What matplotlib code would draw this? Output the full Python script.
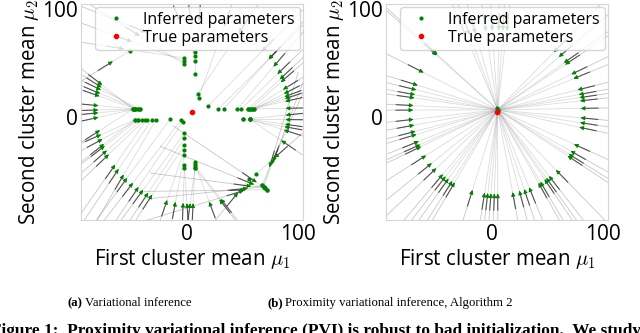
import numpy as np
import matplotlib
matplotlib.use('Agg')
from matplotlib import pyplot as plt

plt.rcParams['font.family'] = ['Open Sans', 'DejaVu Sans']
plt.rcParams['mathtext.fontset'] = 'cm'

true_mu1, true_mu2 = 5.0, 5.0

# (a) variational inference: angle of each run's arrow around the truth (deg)
# and the point where the run ended
angle_a = [147.6, 136.9, 130.3, 124.2, 120.0, 97.5, 91.0, 85.7, 70.0, 60.0,
           41.8, 35.5, 35.4, 30.1, 24.9, 21.3, 19.4, 14.5, 11.8, 9.8,
           8.5, 6.8, 2.3, -1.8, -4.7, -7.7, -9.3, -11.5, -18.4, -28.8,
           -31.4, -33.4, -35.3, -48.4, -50.7, -52.9, -55.3, -57.2, -58.4, -61.9,
           -71.8, -72.7, -79.3, -89.4, -91.2, -93.0, -95.4, -100.1, -105.4, -115.2,
           -117.9, -121.5, -124.7, -129.0, -133.6, -136.4, -141.1, -144.5, -152.1, -154.8,
           -158.0, -159.2, -162.5, -165.5, -168.1, -176.5, -179.4, 178.8, 176.0, 169.9,
           168.1, 165.8, 164.1, 162.5]
end_x_a = [-50.9, -2.2, -2.2, -2.2, 7.7, 7.7, 7.7, 7.7, 11.0, 10.1,
           19.4, 28.7, 33.6, 45.8, 49.4, 55.5, 57.5, 59.0, 61.0, 59.0,
           61.0, 57.5, 55.5, 51.2, 57.5, 57.5, 51.2, 57.5, 57.5, 62.7,
           69.5, 68.0, 69.5, 71.0, 72.5, 71.0, 69.5, 72.5, 68.0, 56.6,
           7.7, 7.7, 7.7, 7.7, 7.7, -1.9, -1.9, -1.9, -1.9, -1.9,
           -1.9, -1.9, -3.4, -4.9, -14.8, -27.4, -31.3, -35.8, -37.3, -40.3,
           -43.4, -46.4, -43.4, -46.4, -48.0, -46.0, -44.0, -42.0, -48.0, -46.0,
           -44.0, -42.0, -46.0, -48.0]
end_y_a = [61.8, 55.0, 52.2, 49.4, 60.6, 56.9, 52.2, 40.2, 18.0, 21.7,
           10.6, 7.8, 7.8, 7.8, 7.8, 7.8, 7.8, 7.8, 7.8, 7.8,
           7.8, 7.8, 7.8, -1.8, -1.8, -1.8, -1.8, -1.8, -1.8, -52.4,
           -64.0, -62.6, -64.0, -65.5, -67.0, -65.5, -64.0, -67.0, -62.6, -57.0,
           -45.0, -46.7, -43.2, -41.3, -46.7, -46.9, -44.1, -34.8, -30.2, -25.6,
           -19.4, -14.7, -4.3, -2.7, -1.5, -2.1, -2.1, -2.1, -2.1, -2.1,
           -2.1, -2.1, -2.1, -2.1, 7.8, 7.8, 7.8, 7.8, 7.8, 7.8,
           7.8, 7.8, 7.8, 7.8]

# (b) proximity variational inference: every run ends next to the truth
angle_b = [97.6, 93.2, 88.8, 86.1, 83.3, 111.7, 109.1, 104.9, 135.3, 136.1,
           151.1, 47.2, 42.4, 37.0, 35.5, 27.5, 24.1, 15.7, 12.3, 10.1,
           7.8, 2.5, -4.1, -7.5, -10.8, -23.3, -28.6, -31.1, -32.6, -45.3,
           -51.7, -54.0, -55.5, -58.9, -60.4, -67.5, -71.1, -74.6, -79.3, -89.5,
           -91.8, -94.1, -96.3, -98.5, -107.0, -120.3, -122.2, -125.3, -127.8, -130.2,
           -136.4, -141.1, -147.8, -154.9, -156.4, -158.9, -164.0, -166.3, -170.7, -174.8,
           178.7, 175.5, 170.1, 167.8, 164.3, 160.9]
end_b = (5.5, 7.0)
inferred_x_b = [5.0, 5.5, 6.0]
inferred_y_b = [9.0, 7.0, 5.5]


def drawRuns(ax, angles, ends_x, ends_y, ring):
    for ang, fx, fy in zip(angles, ends_x, ends_y):
        t = np.deg2rad(ang)
        px = true_mu1 + ring * np.cos(t)
        py = true_mu2 + ring * np.sin(t)
        d = np.hypot(px - fx, py - fy)
        ux, uy = (px - fx) / d, (py - fy) / d
        sx, sy = fx + ux * (d + 90), fy + uy * (d + 90)
        ax.plot([sx, px], [sy, py], color='0.45', lw=0.6, alpha=0.4, zorder=1)
        ax.plot([px, fx], [py, fy], color='0.55', lw=0.6, alpha=0.3, zorder=1)
        ax.plot([px + ux * 14, px], [py + uy * 14, py], color='0.2', lw=0.8, alpha=0.8, zorder=2)
        ax.annotate('', xy=(px - ux * 1.5, py - uy * 1.5), xytext=(px + ux * 3, py + uy * 3),
                    arrowprops=dict(arrowstyle='-|>', color='green', lw=0.6, mutation_scale=6),
                    zorder=3)


def styleAxes(ax):
    ax.set_xlim(-95, 105)
    ax.set_ylim(-95, 105)
    ax.set_xticks([0, 100])
    ax.set_yticks([0, 100])
    ax.tick_params(length=0, labelsize=15)
    ax.tick_params(axis='x', pad=3)
    ax.tick_params(axis='y', pad=2)
    for s in ax.spines.values():
        s.set_color('#d5d5d5')
        s.set_linewidth(0.8)
    ax.set_xlabel(r'First cluster mean $\mu_1$', fontsize=14.8, labelpad=1)
    ax.set_ylabel(r'Second cluster mean $\mu_2$', fontsize=14.8, labelpad=1)
    ax.legend(loc='upper right', fontsize=11.5, framealpha=0.8, edgecolor='#cccccc',
              borderpad=0.3, handletextpad=0.7, borderaxespad=0.2, labelspacing=0.1)


fig = plt.figure(figsize=(6.4, 3.33), dpi=100)
axA = fig.add_axes([81 / 640, 113 / 333, 222 / 640, 216 / 333])
axB = fig.add_axes([386 / 640, 113 / 333, 222 / 640, 216 / 333])

drawRuns(axA, angle_a, end_x_a, end_y_a, 86)
axA.plot(end_x_a, end_y_a, '.', color='green', ms=4, label='Inferred parameters', zorder=4)
axA.plot([true_mu1], [true_mu2], '.', color='red', ms=6, label='True parameters', zorder=5)
styleAxes(axA)

drawRuns(axB, angle_b, [end_b[0]] * len(angle_b), [end_b[1]] * len(angle_b), 77)
axB.plot(inferred_x_b, inferred_y_b, '.', color='green', ms=4, label='Inferred parameters', zorder=4)
axB.plot([true_mu1], [true_mu2], '.', color='red', ms=6, label='True parameters', zorder=5)
styleAxes(axB)

capY = 1 - 303 / 333
serif = 'Liberation Serif'
fig.text(67 / 640, capY, '(a)', ha='left', va='center', fontsize=9.2, family=serif, weight='bold')
fig.text(85 / 640, capY, 'Variational inference', ha='left', va='center', fontsize=9.2, family=serif)
fig.text(267 / 640, capY, '(b)', ha='left', va='center', fontsize=9.2, family=serif, weight='bold')
fig.text(285 / 640, capY, 'Proximity variational inference, Algorithm 2', ha='left', va='center',
         fontsize=9.2, family=serif)
fig.text(-9 / 640, 1 - 331 / 333,
         'Figure 1:  Proximity variational inference (PVI) is robust to bad initialization.  We study',
         ha='left', va='center', fontsize=12.4, family=serif, weight='bold')

fig.savefig('out.png', dpi=100)
